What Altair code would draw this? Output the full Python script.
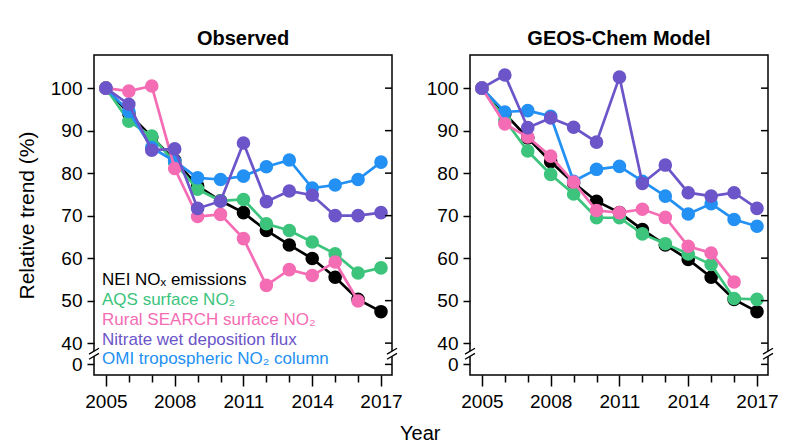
import pandas as pd
import altair as alt

# Relative trends (%), 2005-2017
years = list(range(2005, 2018))

obs_nei = [100, 94.0, 88.5, 83.0, 77.0, 73.5, 70.7, 66.5, 63.1, 59.9, 55.5, 50.3, 47.4]
obs_aqs = [100, 92.2, 88.7, 82.5, 76.2, 73.5, 73.8, 68.1, 66.5, 63.8, 61.0, 56.5, 57.7]
obs_search = [100, 99.3, 100.5, 81.1, 69.8, 70.3, 64.6, 53.6, 57.3, 55.9, 59.1, 49.9, None]
obs_nitrate = [100, 96.2, 85.4, 85.7, 71.7, 73.4, 87.1, 73.3, 75.8, 74.8, 70.0, 70.0, 70.7]
obs_omi = [100, 94.5, 86.0, 82.8, 78.9, 78.5, 79.3, 81.5, 83.1, 76.5, 77.2, 78.5, 82.6]

mod_nei = [100, 94.0, 88.3, 82.7, 77.7, 73.4, 70.7, 66.7, 63.1, 59.7, 55.5, 50.3, 47.4]
mod_aqs = [100, 92.5, 85.2, 79.7, 75.1, 69.5, 69.5, 65.7, 63.4, 61.0, 58.5, 50.5, 50.3]
mod_search = [100, 91.6, 88.5, 84.0, 77.9, 71.2, 70.7, 71.5, 69.6, 62.8, 61.2, 54.4, None]
mod_nitrate = [100, 103.1, 90.7, 93.0, 90.8, 87.3, 102.6, 77.6, 81.9, 75.4, 74.6, 75.4, 71.7]
mod_omi = [100, 94.4, 94.7, 93.4, 78.1, 80.9, 81.6, 78.1, 74.6, 70.4, 72.8, 69.1, 67.5]

# drawing order: black, green, blue, pink, purple
series_keys = ['nei', 'aqs', 'omi', 'search', 'nitrate']
colors = {'nei': '#000000', 'aqs': '#3CC47C', 'search': '#F46CB4',
          'nitrate': '#6B55C9', 'omi': '#2390F3'}

legend_labels = ['NEI NOₓ emissions', 'AQS surface NO₂', 'Rural SEARCH surface NO₂',
                 'Nitrate wet deposition flux', 'OMI tropospheric NO₂ column']
legend_keys = ['nei', 'aqs', 'search', 'nitrate', 'omi']

# y ticks; 35 stands in for the "0" below the axis break
y_ticks = [35, 40, 50, 60, 70, 80, 90, 100]

panels = {
    'obs': dict(nei=obs_nei, aqs=obs_aqs, search=obs_search, nitrate=obs_nitrate, omi=obs_omi),
    'mod': dict(nei=mod_nei, aqs=mod_aqs, search=mod_search, nitrate=mod_nitrate, omi=mod_omi),
}

W, H = 298, 320
FONT = 'Liberation Sans'
yscale = alt.Scale(domain=[32.5, 107.8], nice=False, zero=False)
xscale = alt.Scale(domain=[2004.48, 2017.48], nice=False, zero=False)


def make_panel(key, title, first):
    yaxis_kw = dict(values=y_ticks, labelExpr="datum.value == 35 ? '0' : datum.label",
                    tickSize=7, tickWidth=1.5, tickColor='black', domain=False, grid=False,
                    labelFontSize=19, labelPadding=5, labelColor='black', labelFont=FONT)
    if first:
        yaxis_kw.update(title='Relative trend (%)', titleFontSize=21, titleFontWeight='normal',
                        titlePadding=13, titleFont=FONT, titleColor='black')
    else:
        yaxis_kw.update(title='')
    yaxis = alt.Axis(**yaxis_kw)
    xaxis = alt.Axis(values=years, format='d', title='',
                     labelExpr="(datum.value - 2005) % 3 == 0 ? datum.label : ''",
                     tickSize={"condition": {"test": "(datum.value - 2005) % 3 == 0", "value": 11},
                               "value": 7},
                     tickWidth=1.5, tickColor='black', domain=False, grid=False,
                     labelFontSize=19, labelPadding=6, labelColor='black', labelFont=FONT)

    def X(f):
        return alt.X(f, type='quantitative', scale=xscale, axis=xaxis)

    def Y(f):
        return alt.Y(f, type='quantitative', scale=yscale, axis=yaxis)

    layers = []
    for s in series_keys:
        df = pd.DataFrame({'year': years, 'value': panels[key][s]}).dropna()
        base = alt.Chart(df).encode(x=X('year'), y=Y('value'))
        layers.append(base.mark_line(color=colors[s], strokeWidth=2.7))
        layers.append(base.mark_circle(color=colors[s], size=185, opacity=1))

    # inward ticks on the right edge
    tick_df = pd.DataFrame({'value': y_ticks})
    layers.append(alt.Chart(tick_df).mark_rule(color='black', strokeWidth=1.5).encode(
        y=Y('value'), x=alt.value(W - 7), x2=alt.value(W)))

    # axis break marks on both vertical edges
    cover = pd.DataFrame({'value': [36.9], 'value2': [38.1]})
    slashes = pd.DataFrame({'value': [36.2, 37.4], 'value2': [37.6, 38.8]})
    for edge in (0, W):
        layers.append(alt.Chart(cover).mark_rule(color='white', strokeWidth=5).encode(
            y=Y('value'), y2='value2', x=alt.value(edge)))
        layers.append(alt.Chart(slashes).mark_rule(color='black', strokeWidth=1.3).encode(
            y=Y('value'), y2='value2', x=alt.value(edge - 5), x2=alt.value(edge + 5)))

    if first:
        leg = pd.DataFrame({'label': legend_labels,
                            'color': [colors[k] for k in legend_keys],
                            'year': [2004.83] * 5,
                            'value': [54.8, 50.1, 45.4, 40.7, 36.2]})
        layers.append(alt.Chart(leg).mark_text(align='left', baseline='middle', font=FONT,
                                               fontSize=17).encode(
            x=X('year'), y=Y('value'), text='label:N',
            color=alt.Color('color:N', scale=None)))

    return alt.layer(*layers).properties(
        width=W, height=H,
        title=alt.TitleParams(title, fontSize=20, fontWeight='bold', font=FONT,
                              color='black', offset=6))


chart = alt.hconcat(
    make_panel('obs', 'Observed', True),
    make_panel('mod', 'GEOS-Chem Model', False),
    spacing=22,
).properties(
    title=alt.TitleParams('Year', orient='bottom', anchor='middle', fontSize=20,
                          fontWeight='normal', font=FONT, color='black', offset=12, dx=23),
    padding={'left': 7, 'top': 20, 'right': 5, 'bottom': 5},
).configure_view(
    stroke='black', strokeWidth=1.5
)

chart.save("out.html", embed_options={"renderer": "svg", "actions": False})
